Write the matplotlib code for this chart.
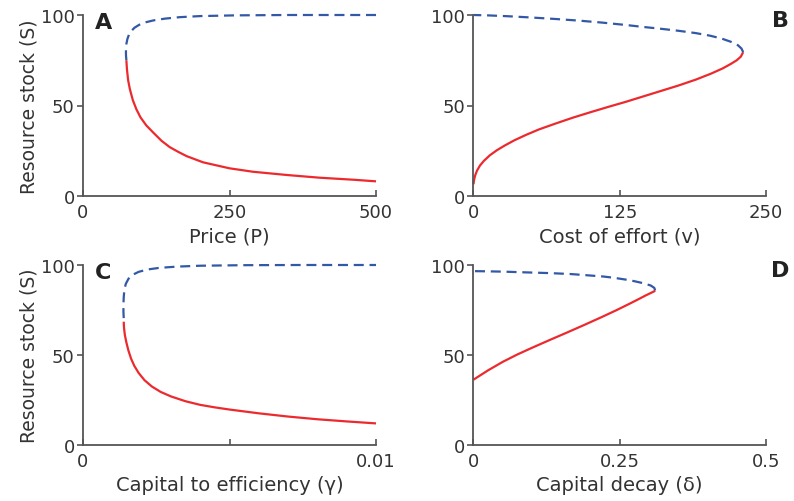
import matplotlib.pyplot as plt

# Panel A: price
price_stable = [74, 75, 77, 80, 85, 91, 98, 108, 120, 134, 148, 163, 177, 205,
                250, 290, 348, 404, 461, 500]
stock_a_stable = [75, 70, 64, 59, 53, 48, 43.5, 39, 35, 30.5, 27, 24.3, 22, 18.6,
                  15.3, 13.4, 11.6, 10.1, 9.0, 8.1]
price_unstable = [74, 73.3, 73.3, 74, 75.8, 78.5, 82.5, 88, 96, 106, 120, 140, 165,
                  200, 260, 350, 500]
stock_a_unstable = [75, 78, 81, 84, 86.8, 89.2, 91.2, 93, 94.6, 95.9, 97, 98, 98.8,
                    99.4, 99.8, 100, 100]

# Panel B: cost of effort
cost_stable = [0, 0.5, 1.5, 3, 5.5, 9, 14, 20, 27, 35, 45, 56, 70, 85, 100, 115,
               130, 145, 160, 175, 190, 203, 213, 220, 225, 228.5, 230.5]
stock_b_stable = [6.5, 9, 11.5, 14, 16.8, 19.5, 22.5, 25.3, 28, 30.8, 33.8, 36.8, 40,
                  43.3, 46.3, 49.2, 52, 55, 58, 61, 64.3, 67.6, 70.5, 73, 75, 77, 79.5]
cost_unstable = [230.5, 229, 226, 220, 212, 202, 190, 175, 160, 145, 130, 110, 90,
                 70, 50, 30, 12, 0]
stock_b_unstable = [79.5, 81.5, 83.3, 85.2, 87, 88.6, 90, 91.3, 92.4, 93.4, 94.5,
                    95.8, 96.9, 97.8, 98.6, 99.3, 99.8, 100]

# Panel C: capital to efficiency
gamma_stable = [0.00139, 0.0014, 0.00143, 0.00148, 0.00155, 0.00164, 0.00175, 0.0019,
                0.0021, 0.00235, 0.00265, 0.003, 0.0035, 0.004, 0.0045, 0.005, 0.006,
                0.007, 0.008, 0.009, 0.01]
stock_c_stable = [68.5, 65, 61, 57, 52.5, 48, 44, 40, 36, 32.5, 29.5, 27, 24.3, 22.3,
                  20.9, 19.7, 17.6, 15.8, 14.3, 13.1, 12]
gamma_unstable = [0.00139, 0.00138, 0.00138, 0.00139, 0.00141, 0.00146, 0.00155,
                  0.0017, 0.0019, 0.0022, 0.0026, 0.0032, 0.004, 0.0055, 0.0075, 0.01]
stock_c_unstable = [70.5, 74, 78, 82, 86, 89.5, 92.3, 94.6, 96.2, 97.5, 98.4, 99.1,
                    99.6, 99.9, 100, 100]

# Panel D: capital decay
delta_stable = [0, 0.025, 0.05, 0.075, 0.1, 0.13, 0.16, 0.19, 0.22, 0.245, 0.265,
                0.282, 0.295, 0.304, 0.309, 0.3105]
stock_d_stable = [36.3, 41.5, 46.2, 50.3, 54, 58.3, 62.5, 66.8, 71.2, 75, 78.2, 81,
                  83.2, 84.6, 85.4, 86]
delta_unstable = [0.3105, 0.309, 0.303, 0.29, 0.275, 0.262, 0.24, 0.222, 0.19, 0.165,
                  0.13, 0.09, 0.052, 0.02, 0]
stock_d_unstable = [86, 87.3, 88.6, 89.9, 91, 91.8, 92.9, 93.6, 94.4, 95, 95.5, 95.9,
                    96.3, 96.5, 96.6]

panels = [
    ("A", price_stable, stock_a_stable, price_unstable, stock_a_unstable,
     (0, 500), [0, 250, 500], ["0", "250", "500"], "Price (P)"),
    ("B", cost_stable, stock_b_stable, cost_unstable, stock_b_unstable,
     (0, 250), [0, 125, 250], ["0", "125", "250"], "Cost of effort (v)"),
    ("C", gamma_stable, stock_c_stable, gamma_unstable, stock_c_unstable,
     (0, 0.01), [0, 0.005, 0.01], ["0", "", "0.01"], "Capital to efficiency (\u03b3)"),
    ("D", delta_stable, stock_d_stable, delta_unstable, stock_d_unstable,
     (0, 0.5), [0, 0.25, 0.5], ["0", "0.25", "0.5"], "Capital decay (\u03b4)"),
]

# axes boxes in pixels: left, top, right, bottom
boxes = [(83, 16, 376, 197), (473.5, 16, 766, 197),
         (83, 266, 376, 446), (473.5, 266, 766, 446)]
W, H = 794, 502
red = "#ec2a2e"
blue = "#3358a6"
spine_col = "#555555"
text_col = "#333333"

fig = plt.figure(figsize=(W / 100, H / 100), dpi=100)

for i, (letter, xs, ys, xu, yu, xlim, xt, xtl, xlabel) in enumerate(panels):
    l, t, r, b = boxes[i]
    ax = fig.add_axes([l / W, (H - b) / H, (r - l) / W, (b - t) / H])
    ax.plot(xs, ys, color=red, lw=1.6, clip_on=False, solid_capstyle="butt")
    ax.plot(xu, yu, color=blue, lw=1.6, dashes=(4.5, 2.6), clip_on=False)
    ax.set_xlim(*xlim)
    ax.set_ylim(0, 100)
    ax.set_xticks(xt)
    ax.set_xticklabels(xtl)
    ax.set_yticks([0, 50, 100])
    for s in ["top", "right"]:
        ax.spines[s].set_visible(False)
    for s in ["left", "bottom"]:
        ax.spines[s].set_color(spine_col)
        ax.spines[s].set_linewidth(1.3)
    ax.tick_params(axis="x", direction="in", length=4, width=1.2, color=spine_col,
                   labelsize=13, labelcolor=text_col, pad=5)
    ax.tick_params(axis="y", direction="out", length=4, width=1.2, color=spine_col,
                   labelsize=13, labelcolor=text_col, pad=2)
    ax.set_xlabel(xlabel, fontsize=14, color=text_col, labelpad=4)
    if i % 2 == 0:
        ax.set_ylabel("Resource stock (S)", fontsize=13.5, color=text_col, labelpad=2)
        ax.text(0.07, 0.96, letter, transform=ax.transAxes, fontsize=16,
                fontweight="bold", color="#222222", ha="center", va="center")
    else:
        ax.text(1.05, 0.97, letter, transform=ax.transAxes, fontsize=16,
                fontweight="bold", color="#222222", ha="center", va="center")

fig.savefig("out.png", dpi=100)
